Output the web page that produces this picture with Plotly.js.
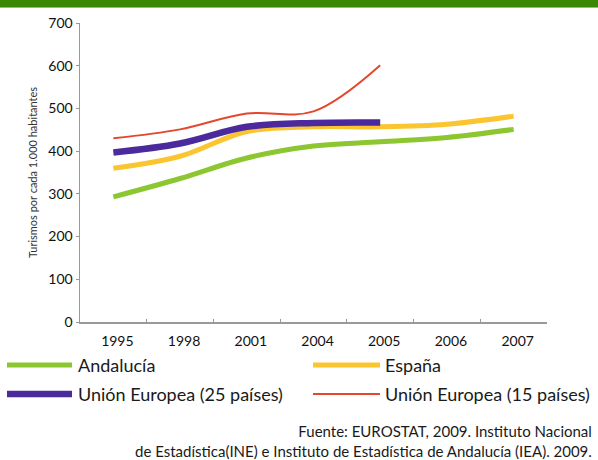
<!DOCTYPE html>
<html>
<head>
<meta charset="utf-8">
<script src="https://cdn.plot.ly/plotly-3.0.1.min.js"></script>
<style>
  html, body { margin: 0; padding: 0; background: #fff; }
  #wrap { position: relative; width: 598px; height: 460px; }
  #band { position: absolute; left: 0; top: 0; width: 598px; height: 7px; background: #3a8706; border-bottom: 1px solid #8fc36a; z-index: 2; }
  #chart { position: absolute; left: 0; top: 0; width: 598px; height: 460px; }
</style>
</head>
<body>
<div id="wrap">
  <div id="chart"></div>
  <div id="band"></div>
</div>
<script>
// ---- data ----
const years = ['1995', '1998', '2001', '2004', '2005', '2006', '2007'];
const andalucia = [293, 336, 384, 412, 422, 432, 451];
const espana = [360, 388, 446, 457, 457, 463, 482];
const ue25 = [397, 418, 457, 466, 467];
const ue15 = [430, 451, 488, 493, 601];
const seriesNames = ['Andalucía', 'España', 'Unión Europea (25 países)', 'Unión Europea (15 países)'];
const seriesColors = ['#8cc630', '#fbc530', '#4a2a9c', '#e4472b'];
const seriesWidths = [5, 5, 6.5, 2];
const yTitle = 'Turismos por cada 1.000 habitantes';
const sourceText = 'Fuente: EUROSTAT, 2009. Instituto Nacional<br>de Estadística(INE) e Instituto de Estadística de Andalucía (IEA). 2009.';

const W = 598, H = 460;
const M = {l: 80, r: 51, t: 23, b: 138};
const pw = W - M.l - M.r, ph = H - M.t - M.b;
const px2x = p => (p - M.l) / pw;
const px2y = p => (H - M.b - p) / ph;

const values = [andalucia, espana, ue25, ue15];
const traces = values.map((v, i) => ({
  type: 'scatter', mode: 'lines',
  x: years.slice(0, v.length), y: v,
  name: seriesNames[i],
  line: {color: seriesColors[i], width: seriesWidths[i], shape: 'spline', smoothing: 1},
  hoverinfo: 'x+y+name'
}));
const font = 'Lato, "Open Sans", sans-serif';

// legend built from series names/colors
const legendPos = [
  {sx0: 7, sx1: 72, tx: 76, y: 365},
  {sx0: 313, sx1: 380, tx: 383, y: 365},
  {sx0: 7, sx1: 72, tx: 76, y: 394},
  {sx0: 313, sx1: 380, tx: 383, y: 394}
];
const shapes = [];
const annotations = [];
seriesNames.forEach((n, i) => {
  const p = legendPos[i];
  shapes.push({type: 'line', xref: 'paper', yref: 'paper',
    x0: px2x(p.sx0), x1: px2x(p.sx1), y0: px2y(p.y), y1: px2y(p.y),
    line: {color: seriesColors[i], width: Math.max(seriesWidths[i], 2)}});
  annotations.push({xref: 'paper', yref: 'paper', x: px2x(p.tx), y: px2y(p.y),
    xanchor: 'left', yanchor: 'middle', showarrow: false, text: n,
    font: {family: font, size: 18, color: '#1a1a1a'}});
});
annotations.push({xref: 'paper', yref: 'paper', x: px2x(594), y: px2y(441),
  xanchor: 'right', yanchor: 'middle', align: 'right', showarrow: false,
  text: sourceText, font: {family: font, size: 15, color: '#1a1a1a'}});

const layout = {
  width: W, height: H,
  margin: M,
  paper_bgcolor: 'rgba(0,0,0,0)', plot_bgcolor: 'rgba(0,0,0,0)',
  showlegend: false,
  font: {family: font, color: '#1a1a1a'},
  xaxis: {
    type: 'category', categoryarray: years, range: [-0.5, 6.5],
    showgrid: false, zeroline: false, showline: true, linecolor: '#999', linewidth: 1.5,
    ticks: 'inside', ticklen: 3, tickcolor: '#999', tickson: 'boundaries',
    ticklabelstandoff: 6, ticklabelshift: 4,
    tickfont: {family: font, size: 14, color: '#111'},
    fixedrange: true
  },
  yaxis: {
    range: [0, 700], dtick: 100, tick0: 0,
    showgrid: false, zeroline: false, showline: true, linecolor: '#999', linewidth: 1.5,
    ticks: 'outside', ticklen: 3, tickcolor: '#999',
    tickfont: {family: font, size: 14, color: '#111'},
    title: {text: yTitle, font: {family: font, size: 11, color: '#333'}, standoff: 8},
    fixedrange: true
  },
  shapes: shapes,
  annotations: annotations
};

Plotly.newPlot('chart', traces, layout, {displayModeBar: false, staticPlot: true});
</script>
</body>
</html>
